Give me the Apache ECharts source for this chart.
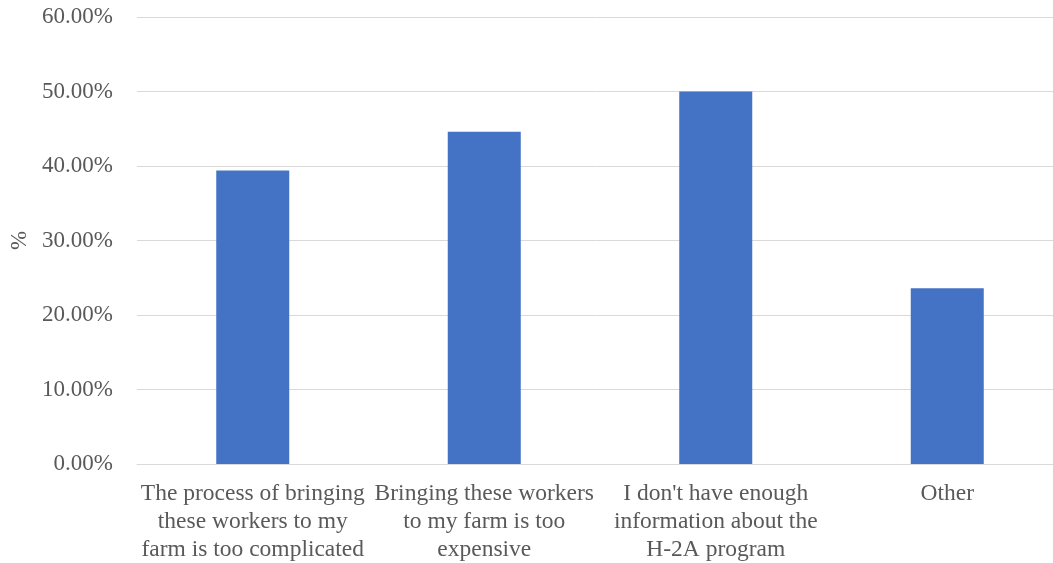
<!DOCTYPE html>
<html>
<head>
<meta charset="utf-8">
<script src="https://cdn.jsdelivr.net/npm/echarts@6/dist/echarts.min.js"></script>
<style>
  html, body { margin: 0; padding: 0; background: #fff; }
  #chart { width: 1053px; height: 563px; }
</style>
</head>
<body>
<div id="chart"></div>
<script>
// Reasons for not using the H-2A program
const categories = [
  'The process of bringing\nthese workers to my\nfarm is too complicated',
  'Bringing these workers\nto my farm is too\nexpensive',
  "I don't have enough\ninformation about the\nH-2A program",
  'Other'
];
const shares = [39.4, 44.6, 50.0, 23.6];
const axisTicks = [0, 10, 20, 30, 40, 50, 60];

const font = 'Liberation Serif, Times New Roman, serif';
const textColor = '#595959';

const chart = echarts.init(document.getElementById('chart'), null, { renderer: 'canvas' });
chart.setOption({
  animation: false,
  // plot area runs past the right edge of the canvas
  grid: {
    left: 137, top: 17, width: 926, height: 447,
    containLabel: false,
    outerBoundsMode: 'none'
  },
  xAxis: {
    type: 'category',
    data: categories,
    axisLine: { show: true, lineStyle: { color: '#d9d9d9', width: 1 } },
    axisTick: { show: false },
    axisLabel: {
      interval: 0,
      color: textColor,
      fontFamily: font,
      fontSize: 23.5,
      lineHeight: 28,
      margin: 16
    }
  },
  yAxis: {
    type: 'value',
    min: axisTicks[0],
    max: axisTicks[axisTicks.length - 1],
    interval: axisTicks[1] - axisTicks[0],
    name: '%',
    nameLocation: 'middle',
    nameGap: 105,
    nameTextStyle: { color: textColor, fontFamily: font, fontSize: 23 },
    axisLine: { show: false },
    axisTick: { show: false },
    splitLine: { lineStyle: { color: '#d9d9d9', width: 1 } },
    axisLabel: {
      color: textColor,
      fontFamily: font,
      fontSize: 23,
      margin: 24,
      formatter: v => v.toFixed(2) + '%'
    }
  },
  series: [{
    type: 'bar',
    data: shares,
    barWidth: 73,
    itemStyle: { color: '#4472c4' }
  }]
});
</script>
</body>
</html>
